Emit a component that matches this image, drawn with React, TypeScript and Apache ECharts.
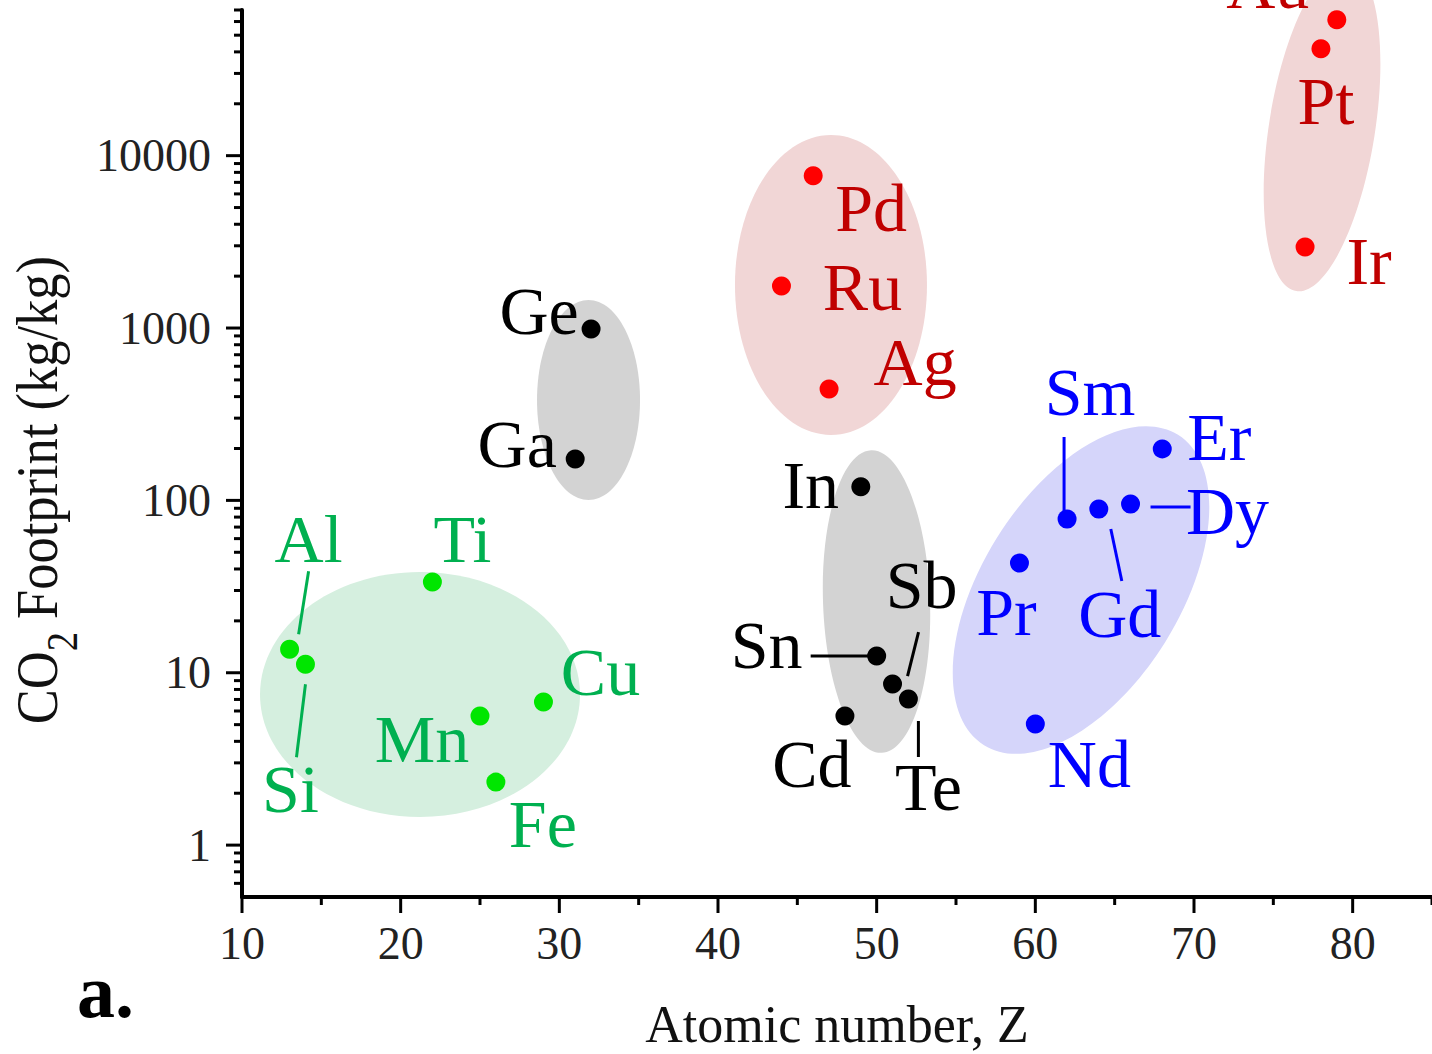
import React, { useEffect, useRef } from 'react';
import * as echarts from 'echarts';

const SERIF = "'Liberation Serif', 'Times New Roman', Times, serif";

// ---- axes ----
const X_MIN = 10;
const X_MAX = 85;
const Y_MIN = 0.5;
const Y_MAX = 70000;
const xTickLabels = [10, 20, 30, 40, 50, 60, 70, 80];
const xMinorTicks = [15, 25, 35, 45, 55, 65, 75, 85];
const yTickLabels = [1, 10, 100, 1000, 10000];
const yMinorTicks = [
  0.6, 0.7, 0.8, 0.9,
  2, 3, 4, 5, 6, 7, 8, 9,
  20, 30, 40, 50, 60, 70, 80, 90,
  200, 300, 400, 500, 600, 700, 800, 900,
  2000, 3000, 4000, 5000, 6000, 7000, 8000, 9000,
  20000, 30000, 40000, 50000, 60000, 70000,
];

// ---- data: atomic number Z and CO2 footprint (kg/kg) ----
const greenNames = ['Al', 'Si', 'Ti', 'Mn', 'Fe', 'Cu'];
const greenZ = [13, 14, 22, 25, 26, 29];
const greenCO2 = [13.7, 11.2, 33.6, 5.61, 2.32, 6.76];

const blackNames = ['Ga', 'Ge', 'Cd', 'In', 'Sn', 'Sb', 'Te'];
const blackZ = [31, 32, 48, 49, 50, 51, 52];
const blackCO2 = [174, 988, 5.61, 120, 12.5, 8.6, 7.04];

const redNames = ['Ru', 'Pd', 'Ag', 'Ir', 'Pt', 'Au'];
const redZ = [44, 46, 47, 77, 78, 79];
const redCO2 = [1755, 7640, 443, 2955, 41700, 61400];

const blueNames = ['Pr', 'Nd', 'Sm', 'Gd', 'Dy', 'Er'];
const blueZ = [59, 60, 62, 64, 66, 68];
const blueCO2 = [43.3, 5.04, 78, 89.1, 95.3, 199];

// ---- group ellipses (centres in data space) ----
const ellipseZ = [21.22, 31.84, 49.99, 47.12, 78.07, 62.88];
const ellipseCO2 = [7.48, 382, 25.9, 1776, 14460, 30.2];

// ---- styles / layout (kept apart from the data) ----
const ellipseStyle = [
  { rx: 160, ry: 122.5, rot: 0, fill: '#d5efdf' },
  { rx: 51.5, ry: 100, rot: 0, fill: '#d3d3d3' },
  { rx: 53.5, ry: 151.5, rot: 2, fill: '#d3d3d3' },
  { rx: 96, ry: 150, rot: 0, fill: '#f1d6d6' },
  { rx: 53, ry: 165, rot: -9, fill: '#f1d6d6' },
  { rx: 99, ry: 183, rot: -32, fill: '#d5d5fa' },
];

const groupStyle = [
  { dot: '#00e600', text: '#00b050' },
  { dot: '#000000', text: '#000000' },
  { dot: '#ff0000', text: '#c00000' },
  { dot: '#0000ff', text: '#0000ff' },
];

// text offset t = [dx, dy] from the point; optional leader line l = [x1, y1, x2, y2] relative to the point
const labelLayout: Record<string, { t: number[]; l?: number[] }> = {
  Al: { t: [19, -110], l: [19, -78, 9, -15] },
  Si: { t: [-15, 125], l: [0, 20, -9, 93] },
  Ti: { t: [30, -43] },
  Mn: { t: [-58, 23] },
  Fe: { t: [47, 42] },
  Cu: { t: [57, -30] },
  Ga: { t: [-58, -15] },
  Ge: { t: [-52, -18] },
  Cd: { t: [-33, 48] },
  In: { t: [-50, -2] },
  Sn: { t: [-110, -11], l: [-66, 0, -4, 0] },
  Sb: { t: [29, -99], l: [26, -52, 15, -8] },
  Te: { t: [20, 88], l: [10, 22, 10, 58] },
  Ru: { t: [81, 1] },
  Pd: { t: [58, 32] },
  Ag: { t: [86, -27] },
  Ir: { t: [64, 14] },
  Pt: { t: [5, 52] },
  Au: { t: [-69, -35] },
  Pr: { t: [-13, 49] },
  Nd: { t: [54, 40] },
  Sm: { t: [23, -127], l: [-3, -82, -3, -3] },
  Gd: { t: [21, 105], l: [12, 20, 23, 72] },
  Dy: { t: [97, 7], l: [20, 3, 60, 3] },
  Er: { t: [57, -12] },
};

const groups = [
  { names: greenNames, z: greenZ, co2: greenCO2 },
  { names: blackNames, z: blackZ, co2: blackCO2 },
  { names: redNames, z: redZ, co2: redCO2 },
  { names: blueNames, z: blueZ, co2: blueCO2 },
];

const allPoints = groups.flatMap((g, gi) =>
  g.names.map((n, i) => ({ name: n, z: g.z[i], v: g.co2[i], gi }))
);

const tickData = [
  ...xTickLabels.map((v) => [v, Y_MIN, 0, 1]),
  ...xMinorTicks.map((v) => [v, Y_MIN, 0, 0]),
  ...yTickLabels.map((v) => [X_MIN, v, 1, 1]),
  ...yMinorTicks.map((v) => [X_MIN, v, 1, 0]),
];

const MAJOR_LEN = 16;
const MINOR_LEN = 8;

// y-axis title pieces (Times metrics: "CO" = 1.389 em, "2" = 0.5 em, space = 0.25 em)
const Y_TITLE_FS = 60;
const Y_SUB_FS = 44;
const Y_TITLE_START = -267.7;

export default function App() {
  const ref = useRef<HTMLDivElement>(null);

  useEffect(() => {
    if (!ref.current) return;
    const chart = echarts.init(ref.current, null, { renderer: 'svg' });

    const titleStyle = { fontFamily: SERIF, fill: '#111', align: 'left', verticalAlign: 'middle' };

    const option: any = {
      animation: false,
      backgroundColor: '#ffffff',
      grid: { left: 242, right: 0, top: 10, bottom: 157, containLabel: false, outerBoundsMode: 'none' },
      xAxis: {
        type: 'value',
        min: X_MIN,
        max: X_MAX,
        interval: 10,
        axisLine: { show: true, onZero: false, lineStyle: { color: '#000', width: 4 } },
        axisTick: { show: false },
        splitLine: { show: false },
        axisLabel: {
          fontSize: 46,
          fontFamily: SERIF,
          color: '#222',
          margin: 46,
          verticalAlign: 'middle',
          formatter: (v: number) => (xTickLabels.includes(v) ? String(v) : ''),
        },
        name: 'Atomic number, Z',
        nameLocation: 'middle',
        nameGap: 101,
        nameTextStyle: { fontSize: 52, fontFamily: SERIF, color: '#111' },
      },
      yAxis: {
        type: 'log',
        logBase: 10,
        min: Y_MIN,
        max: Y_MAX,
        axisLine: { show: true, onZero: false, lineStyle: { color: '#000', width: 4 } },
        axisTick: { show: false },
        splitLine: { show: false },
        minorTick: { show: false },
        axisLabel: {
          fontSize: 46,
          fontFamily: SERIF,
          color: '#222',
          margin: 31,
          formatter: (v: number) => {
            const l = Math.log10(v);
            return Math.abs(l - Math.round(l)) < 1e-6 && yTickLabels.includes(Math.round(v))
              ? String(Math.round(v))
              : '';
          },
        },
      },
      graphic: [
        {
          type: 'group',
          x: 37,
          y: 490,
          rotation: Math.PI / 2,
          scaleX: 0.875,
          children: [
            {
              type: 'text',
              x: Y_TITLE_START,
              y: 0,
              style: { ...titleStyle, text: 'CO', fontSize: Y_TITLE_FS },
            },
            {
              type: 'text',
              x: Y_TITLE_START + 1.389 * Y_TITLE_FS,
              y: 25.4,
              style: { ...titleStyle, text: '2', fontSize: Y_SUB_FS },
            },
            {
              type: 'text',
              x: Y_TITLE_START + 1.389 * Y_TITLE_FS + 0.5 * Y_SUB_FS + 0.25 * Y_TITLE_FS,
              y: 0,
              style: { ...titleStyle, text: 'Footprint (kg/kg)', fontSize: Y_TITLE_FS },
            },
          ],
        },
        {
          type: 'text',
          left: 77,
          top: 953,
          style: {
            text: 'a.',
            fill: '#000',
            fontSize: 76,
            fontWeight: 'bold',
            fontFamily: SERIF,
          },
        },
      ],
      series: [
        {
          type: 'custom',
          name: 'groups',
          coordinateSystem: 'cartesian2d',
          silent: true,
          clip: false,
          z: 1,
          data: ellipseZ.map((z, i) => [z, ellipseCO2[i]]),
          renderItem: (params: any, api: any) => {
            const e = ellipseStyle[params.dataIndex];
            const c = api.coord([api.value(0), api.value(1)]);
            return {
              type: 'ellipse',
              x: c[0],
              y: c[1],
              rotation: (e.rot * Math.PI) / 180,
              shape: { cx: 0, cy: 0, rx: e.rx, ry: e.ry },
              style: { fill: e.fill },
            };
          },
        },
        ...groups.map((g, gi) => ({
          type: 'scatter',
          name: 'group' + gi,
          z: 3,
          symbol: 'circle',
          symbolSize: 19,
          itemStyle: { color: groupStyle[gi].dot, opacity: 1 },
          data: g.z.map((z, i) => [z, g.co2[i]]),
        })),
        {
          type: 'custom',
          name: 'labels',
          coordinateSystem: 'cartesian2d',
          silent: true,
          clip: false,
          z: 4,
          data: allPoints.map((p) => [p.z, p.v]),
          renderItem: (params: any, api: any) => {
            const p = allPoints[params.dataIndex];
            const L = labelLayout[p.name];
            const col = groupStyle[p.gi].text;
            const c = api.coord([api.value(0), api.value(1)]);
            const children: any[] = [
              {
                type: 'text',
                x: c[0] + L.t[0],
                y: c[1] + L.t[1],
                style: {
                  text: p.name,
                  fill: col,
                  fontSize: 68,
                  fontFamily: SERIF,
                  align: 'center',
                  verticalAlign: 'middle',
                },
              },
            ];
            if (L.l) {
              children.push({
                type: 'line',
                shape: {
                  x1: c[0] + L.l[0],
                  y1: c[1] + L.l[1],
                  x2: c[0] + L.l[2],
                  y2: c[1] + L.l[3],
                },
                style: { stroke: col, lineWidth: 3 },
              });
            }
            return { type: 'group', children };
          },
        },
        {
          type: 'custom',
          name: 'ticks',
          coordinateSystem: 'cartesian2d',
          silent: true,
          clip: false,
          z: 5,
          data: tickData,
          renderItem: (params: any, api: any) => {
            const c = api.coord([api.value(0), api.value(1)]);
            const isY = api.value(2) === 1;
            const len = api.value(3) === 1 ? MAJOR_LEN : MINOR_LEN;
            const shape = isY
              ? { x1: c[0] - len, y1: c[1], x2: c[0], y2: c[1] }
              : { x1: c[0], y1: c[1], x2: c[0], y2: c[1] + len };
            return { type: 'line', shape, style: { stroke: '#000', lineWidth: 3 } };
          },
        },
      ],
    };

    chart.setOption(option);
    return () => chart.dispose();
  }, []);

  return (
    <div
      ref={ref}
      style={{ position: 'fixed', left: 0, top: 0, width: 1432, height: 1054, background: '#fff' }}
    />
  );
}
